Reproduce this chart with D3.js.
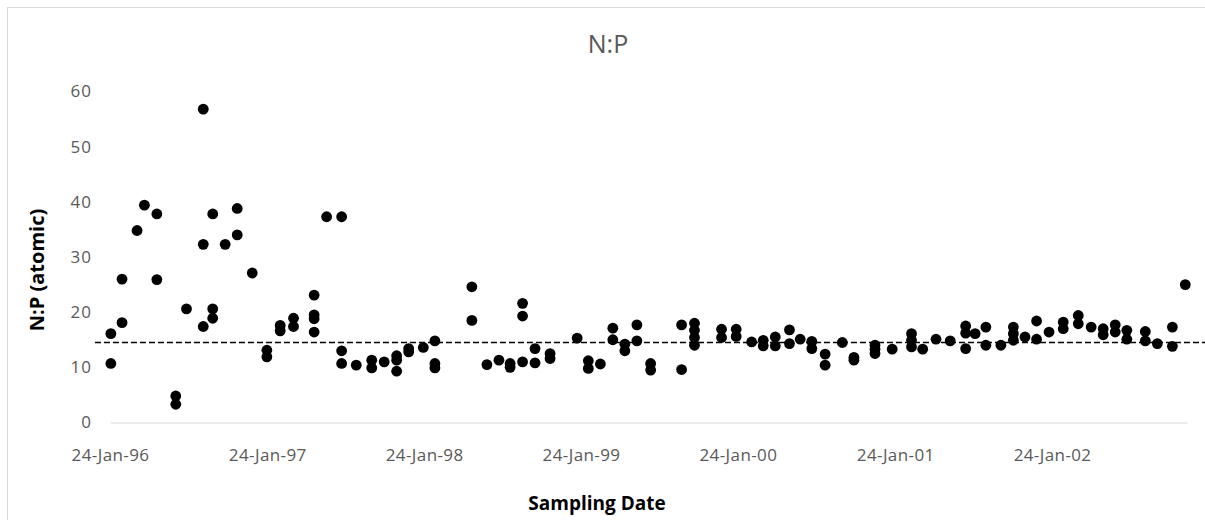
<!DOCTYPE html>
<html>
<head>
<meta charset="utf-8">
<script src="https://cdn.jsdelivr.net/npm/d3@7"></script>
<style>
   body { margin: 0; background: #fff; }
</style>
</head>
<body>
<script>
// Paramètres de la visualisation
const width = 1205;
const height = 520;
const margin = { top: 91.5, right: 18, bottom: 97.5, left: 110 };

// dates d'échantillonnage (une entrée par point)
const sampleDates = [
   '1996-01-26', '1996-01-26',
   '1996-02-21', '1996-02-21',
   '1996-03-27',
   '1996-04-13',
   '1996-05-12', '1996-05-12',
   '1996-06-25', '1996-06-25',
   '1996-07-20',
   '1996-08-28', '1996-08-28', '1996-08-28',
   '1996-09-19', '1996-09-19', '1996-09-19',
   '1996-10-18',
   '1996-11-15', '1996-11-15',
   '1996-12-20',
   '1997-01-23', '1997-01-23',
   '1997-02-23', '1997-02-23',
   '1997-03-26', '1997-03-26',
   '1997-05-13', '1997-05-13', '1997-05-13', '1997-05-13',
   '1997-06-11',
   '1997-07-16', '1997-07-16', '1997-07-16',
   '1997-08-19',
   '1997-09-24', '1997-09-24',
   '1997-10-23',
   '1997-11-21', '1997-11-21', '1997-11-21',
   '1997-12-19', '1997-12-19',
   '1998-01-22',
   '1998-02-18', '1998-02-18', '1998-02-18',
   '1998-05-15', '1998-05-15',
   '1998-06-19',
   '1998-07-17',
   '1998-08-12', '1998-08-12',
   '1998-09-10', '1998-09-10', '1998-09-10',
   '1998-10-09', '1998-10-09',
   '1998-11-13', '1998-11-13',
   '1999-01-15',
   '1999-02-10', '1999-02-10',
   '1999-03-10',
   '1999-04-08', '1999-04-08',
   '1999-05-06', '1999-05-06',
   '1999-06-03', '1999-06-03',
   '1999-07-05', '1999-07-05',
   '1999-09-15', '1999-09-15',
   '1999-10-15', '1999-10-15', '1999-10-15', '1999-10-15',
   '1999-12-17', '1999-12-17',
   '2000-01-20', '2000-01-20',
   '2000-02-25',
   '2000-03-23', '2000-03-23',
   '2000-04-20', '2000-04-20',
   '2000-05-23', '2000-05-23',
   '2000-06-17',
   '2000-07-14', '2000-07-14',
   '2000-08-14', '2000-08-14',
   '2000-09-23',
   '2000-10-20', '2000-10-20',
   '2000-12-08', '2000-12-08', '2000-12-08',
   '2001-01-17',
   '2001-03-03', '2001-03-03', '2001-03-03',
   '2001-03-29',
   '2001-04-29',
   '2001-06-01',
   '2001-07-07', '2001-07-07', '2001-07-07',
   '2001-07-29',
   '2001-08-23', '2001-08-23',
   '2001-09-27',
   '2001-10-26', '2001-10-26', '2001-10-26',
   '2001-11-22',
   '2001-12-19', '2001-12-19',
   '2002-01-17',
   '2002-02-19', '2002-02-19',
   '2002-03-26', '2002-03-26',
   '2002-04-25',
   '2002-05-23', '2002-05-23',
   '2002-06-20', '2002-06-20',
   '2002-07-17', '2002-07-17',
   '2002-08-29', '2002-08-29',
   '2002-09-26',
   '2002-10-31', '2002-10-31',
   '2002-11-30'
];

// rapport N:P (atomique), même ordre que les dates
const npRatios = [
   16.1, 10.7,
   26.0, 18.1,
   34.8,
   39.4,
   37.8, 25.9,
   4.8, 3.3,
   20.6,
   56.8, 32.3, 17.4,
   37.8, 20.6, 18.9,
   32.3,
   38.8, 34.0,
   27.1,
   13.1, 11.9,
   17.6, 16.6,
   18.9, 17.4,
   23.1, 19.5, 18.8, 16.4,
   37.3,
   37.3, 13.0, 10.7,
   10.4,
   11.3, 9.9,
   11.0,
   12.1, 11.3, 9.3,
   13.4, 12.8,
   13.6,
   14.8, 10.7, 9.9,
   24.6, 18.5,
   10.5,
   11.3,
   10.7, 10.0,
   21.6, 19.3, 11.0,
   13.4, 10.8,
   12.5, 11.6,
   15.3,
   11.2, 9.8,
   10.6,
   17.1, 15.0,
   14.2, 13.0,
   17.7, 14.8,
   10.7, 9.5,
   17.7, 9.6,
   18.0, 16.7, 15.4, 14.0,
   16.9, 15.4,
   16.9, 15.6,
   14.6,
   14.9, 13.9,
   15.5, 13.9,
   16.8, 14.3,
   15.1,
   14.7, 13.4,
   12.4, 10.4,
   14.5,
   11.8, 11.3,
   14.0, 13.3, 12.5,
   13.3,
   16.1, 14.9, 13.7,
   13.3,
   15.1,
   14.8,
   17.5, 16.2, 13.4,
   16.1,
   17.3, 14.0,
   14.0,
   17.3, 16.1, 14.9,
   15.5,
   18.4, 15.1,
   16.4,
   18.2, 17.0,
   19.4, 17.9,
   17.3,
   17.0, 15.9,
   17.7, 16.4,
   16.7, 15.1,
   16.5, 14.8,
   14.3,
   17.3, 13.8,
   25.0
];

// ligne de référence (pointillés)
const refDates = ['1995-12-20', '2003-01-15'];
const refValue = 14.5;

// étiquettes des axes
const xTickDates = ['1996-01-24', '1997-01-24', '1998-01-24', '1999-01-24', '2000-01-24', '2001-01-24', '2002-01-24'];
const xDomain = ['1996-01-24', '2002-12-04'];
const yTicks = [0, 10, 20, 30, 40, 50, 60];

const parseDate = d3.timeParse('%Y-%m-%d');
const formatDate = d3.timeFormat('%d-%b-%y');

function setup () {

   const data = sampleDates.map((d, i) => ({ date: parseDate(d), ratio: npRatios[i] }));

   const svg = d3.select('body')
   .append('svg')
   .attr('width', width)
   .attr('height', height)
   .style('font-family', '"Open Sans", sans-serif');

   // cadre
   svg.append('rect')
   .attr('x', 7.5)
   .attr('y', 7.5)
   .attr('width', width)
   .attr('height', height)
   .attr('fill', 'none')
   .attr('stroke', '#d9d9d9');

   // échelle horizontale
   const scaleX = d3.scaleTime()
   .domain(xDomain.map(parseDate))
   .range([margin.left, width - margin.right]);

   // échelle verticale
   const scaleY = d3.scaleLinear()
   .domain([0, 60])
   .range([height - margin.bottom, margin.top]);

   // axe horizontal
   svg.append('g')
   .attr('transform', `translate(0, ${scaleY(0)})`)
   .call(d3.axisBottom(scaleX)
      .tickValues(xTickDates.map(parseDate))
      .tickFormat(formatDate)
      .tickSize(0)
      .tickPadding(26))
   .call(g => g.select('.domain').attr('stroke', '#d9d9d9'))
   .call(g => g.selectAll('text')
      .attr('fill', '#595959')
      .style('font-size', '17px')
      .style('letter-spacing', '0.4px')
      .style('font-family', '"Open Sans", sans-serif'));

   // axe vertical
   svg.append('g')
   .attr('transform', `translate(${margin.left - 18}, 0)`)
   .call(d3.axisLeft(scaleY)
      .tickValues(yTicks)
      .tickSize(0)
      .tickPadding(0))
   .call(g => g.select('.domain').remove())
   .call(g => g.selectAll('text')
      .attr('fill', '#595959')
      .style('font-size', '17px')
      .style('letter-spacing', '1px')
      .style('font-family', '"Open Sans", sans-serif'));

   // ligne de référence
   svg.append('line')
   .attr('x1', scaleX(parseDate(refDates[0])))
   .attr('x2', scaleX(parseDate(refDates[1])))
   .attr('y1', scaleY(refValue))
   .attr('y2', scaleY(refValue))
   .attr('stroke', '#000')
   .attr('stroke-width', 1.3)
   .attr('stroke-dasharray', '6,3');

   // points
   svg.append('g')
   .selectAll('circle')
   .data(data)
   .join('circle')
      .attr('cx', d => scaleX(d.date))
      .attr('cy', d => scaleY(d.ratio))
      .attr('r', 5.4)
      .attr('fill', '#000');

   // titre du graphique
   svg.append('text')
   .attr('x', 608)
   .attr('y', 53)
   .attr('text-anchor', 'middle')
   .attr('font-size', '25px')
   .attr('fill', '#595959')
   .text('N:P');

   // titres des axes
   svg.append('text')
   .attr('x', 597)
   .attr('y', 510)
   .attr('text-anchor', 'middle')
   .attr('font-size', '19px')
   .attr('font-weight', 'bold')
   .text('Sampling Date');

   svg.append('text')
   .attr('transform', 'translate(37, 270) rotate(-90)')
   .attr('dy', '0.35em')
   .attr('text-anchor', 'middle')
   .attr('font-size', '20px')
   .attr('font-weight', 'bold')
   .text('N:P (atomic)');
}

setup();
</script>
</body>
</html>
